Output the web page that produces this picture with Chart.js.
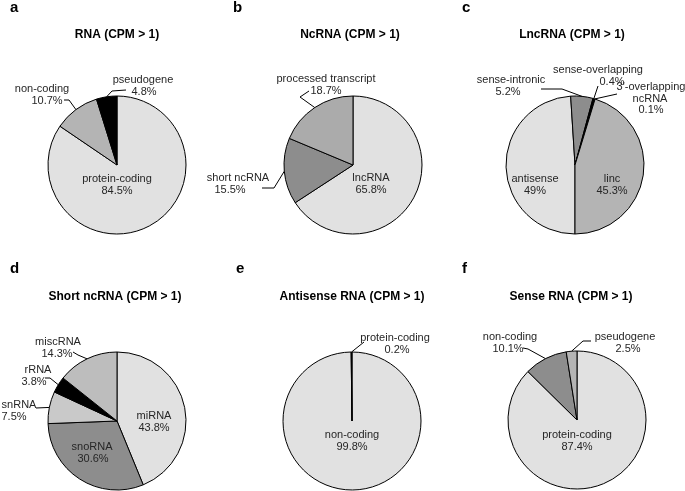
<!DOCTYPE html>
<html>
<head>
<meta charset="utf-8">
<script src="https://cdn.jsdelivr.net/npm/chart.js@4.4.0/dist/chart.umd.min.js"></script>
<style>
  html, body { margin: 0; padding: 0; background: #fff; }
  #wrap { position: relative; width: 685px; height: 491px; overflow: hidden; }
  #wrap canvas { position: absolute; left: 0; top: 0; }
</style>
</head>
<body>
<div id="wrap">
  <canvas id="pa" width="685" height="491"></canvas>
  <canvas id="pb" width="685" height="491"></canvas>
  <canvas id="pc" width="685" height="491"></canvas>
  <canvas id="pd" width="685" height="491"></canvas>
  <canvas id="pe" width="685" height="491"></canvas>
  <canvas id="pf" width="685" height="491"></canvas>
</div>
<script>
// --- data (percent of genes with CPM > 1) ---
const rnaLabels = ['protein-coding', 'non-coding', 'pseudogene'];
const rnaValues = [84.5, 10.7, 4.8];

const ncLabels = ['lncRNA', 'short ncRNA', 'processed transcript'];
const ncValues = [65.8, 15.5, 18.7];

const lncLabels = ['antisense', 'sense-intronic', 'sense-overlapping', "3'-overlapping\nncRNA", 'linc'];
const lncValues = [49, 5.2, 0.4, 0.1, 45.3];

const shortLabels = ['miRNA', 'snoRNA', 'snRNA', 'rRNA', 'miscRNA'];
const shortValues = [43.8, 30.6, 7.5, 3.8, 14.3];

const antiLabels = ['non-coding', 'protein-coding'];
const antiValues = [99.8, 0.2];

const senseLabels = ['protein-coding', 'non-coding', 'pseudogene'];
const senseValues = [87.4, 10.1, 2.5];

const W = 685, H = 491;
const LIGHT = '#e1e1e1', MID = '#b4b4b4', DARK = '#8d8d8d';
const FONT = "'Liberation Sans', Arial, Helvetica, sans-serif";

// panel layout: pie centre/radius, title, panel letter, and slice label placement
const panels = [
  {
    id: 'pa', letter: 'a', letterAt: [10, 12], title: 'RNA (CPM > 1)', titleAt: [117, 35],
    labels: rnaLabels, values: rnaValues, colors: [LIGHT, MID, '#000'], rotation: 0,
    cx: 117, cy: 165, r: 69,
    notes: [
      { i: 0, xs: [117, 117], y: 179 },
      { i: 1, xs: [42, 47], y: 89, lead: [[64, 100], [69, 100]] },
      { i: 2, xs: [143, 144], y: 80, lead: [[126, 90], [112, 91]] }
    ]
  },
  {
    id: 'pb', letter: 'b', letterAt: [233, 12], title: 'NcRNA (CPM > 1)', titleAt: [350, 35],
    labels: ncLabels, values: ncValues, colors: [LIGHT, DARK, '#ababab'], rotation: 0,
    cx: 353, cy: 165, r: 69,
    notes: [
      { i: 0, xs: [371, 371], y: 178 },
      { i: 1, xs: [238, 230], y: 178, lead: [[262, 188], [274, 188]] },
      { i: 2, xs: [326, 326], y: 79, lead: [[309, 91], [300, 97]] }
    ]
  },
  {
    id: 'pc', letter: 'c', letterAt: [462, 12], title: 'LncRNA (CPM > 1)', titleAt: [572, 35],
    labels: lncLabels, values: lncValues, colors: [LIGHT, DARK, '#000', '#222', MID], rotation: 180,
    cx: 575, cy: 165, r: 69,
    notes: [
      { i: 0, xs: [535, 535], y: 179 },
      { i: 1, xs: [511, 508], y: 80, lead: [[541, 89], [562, 89]] },
      { i: 2, xs: [598, 612], y: 70, lead: [[598, 86]] },
      { i: 3, xs: [651, 650, 651], y: 87, lead: [[617, 94]] },
      { i: 4, xs: [612, 612], y: 179 }
    ]
  },
  {
    id: 'pd', letter: 'd', letterAt: [10, 273], title: 'Short ncRNA (CPM > 1)', titleAt: [115, 297],
    labels: shortLabels, values: shortValues, colors: [LIGHT, DARK, '#c9c9c9', '#000', '#bdbdbd'], rotation: 0,
    cx: 117, cy: 421, r: 69,
    notes: [
      { i: 0, xs: [154, 154], y: 416 },
      { i: 1, xs: [92, 93], y: 447 },
      { i: 2, xs: [19, 14], y: 405, lead: [[36, 408]] },
      { i: 3, xs: [38, 34], y: 370, lead: [[45, 378], [50, 378]] },
      { i: 4, xs: [58, 57], y: 342, lead: [[73, 352], [78, 355]] }
    ]
  },
  {
    id: 'pe', letter: 'e', letterAt: [236, 273], title: 'Antisense RNA (CPM > 1)', titleAt: [352, 297],
    labels: antiLabels, values: antiValues, colors: [LIGHT, '#000'], rotation: 0,
    cx: 352, cy: 421, r: 69,
    notes: [
      { i: 0, xs: [352, 352], y: 435 },
      { i: 1, xs: [395, 397], y: 338, lead: [[364, 342]] }
    ]
  },
  {
    id: 'pf', letter: 'f', letterAt: [462, 273], title: 'Sense RNA (CPM > 1)', titleAt: [571, 297],
    labels: senseLabels, values: senseValues, colors: [LIGHT, DARK, MID], rotation: 0,
    cx: 577, cy: 420, r: 69,
    notes: [
      { i: 0, xs: [577, 577], y: 435 },
      { i: 1, xs: [510, 508], y: 337, lead: [[523, 348], [528, 349]] },
      { i: 2, xs: [625, 628], y: 337, lead: [[591, 341], [583, 341]] }
    ]
  }
];

// draws panel letter, title, slice labels and leader lines
const annotate = {
  id: 'annotate',
  afterDraw(chart, args, opts) {
    const p = opts.panel;
    const ctx = chart.ctx;
    const arcs = chart.getDatasetMeta(0).data;
    ctx.save();
    ctx.fillStyle = '#000';
    ctx.font = 'bold 15px ' + FONT;
    ctx.textAlign = 'left';
    ctx.textBaseline = 'alphabetic';
    ctx.fillText(p.letter, p.letterAt[0], p.letterAt[1]);

    ctx.font = 'bold 12px ' + FONT;
    ctx.textAlign = 'center';
    ctx.textBaseline = 'middle';
    ctx.fillText(p.title, p.titleAt[0], p.titleAt[1]);

    ctx.font = '11px ' + FONT;
    ctx.fillStyle = '#262626';
    ctx.strokeStyle = '#000';
    ctx.lineWidth = 1;
    p.notes.forEach(n => {
      const lines = p.labels[n.i].split('\n').concat([p.values[n.i] + '%']);
      lines.forEach((t, k) => ctx.fillText(t, n.xs[k], n.y + k * 11.5));
      if (n.lead) {
        const a = arcs[n.i].getProps(['x', 'y', 'startAngle', 'endAngle', 'outerRadius'], true);
        const mid = (a.startAngle + a.endAngle) / 2;
        const ex = a.x + Math.cos(mid) * a.outerRadius;
        const ey = a.y + Math.sin(mid) * a.outerRadius;
        ctx.beginPath();
        ctx.moveTo(n.lead[0][0], n.lead[0][1]);
        n.lead.slice(1).forEach(pt => ctx.lineTo(pt[0], pt[1]));
        ctx.lineTo(ex, ey);
        ctx.stroke();
      }
    });
    ctx.restore();
  }
};

panels.forEach(p => {
  const rr = p.r + 0.5;
  new Chart(document.getElementById(p.id), {
    type: 'pie',
    data: {
      labels: p.labels,
      datasets: [{
        data: p.values,
        backgroundColor: p.colors,
        borderColor: '#000',
        borderWidth: 1
      }]
    },
    options: {
      responsive: false,
      animation: false,
      events: [],
      rotation: p.rotation,
      layout: {
        padding: { left: p.cx - rr, right: W - p.cx - rr, top: p.cy - rr, bottom: H - p.cy - rr }
      },
      plugins: {
        legend: { display: false },
        tooltip: { enabled: false },
        annotate: { panel: p }
      }
    },
    plugins: [annotate]
  });
});
</script>
</body>
</html>
